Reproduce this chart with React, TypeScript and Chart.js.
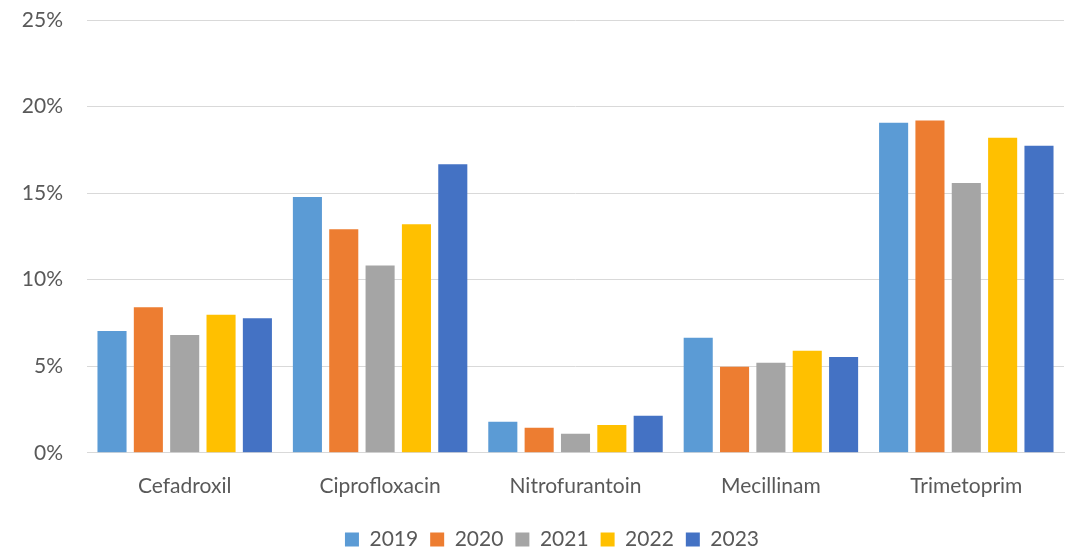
import React, { useEffect, useRef } from "react";
import { Chart, registerables } from "chart.js";

Chart.register(...registerables);

const categories = ["Cefadroxil", "Ciprofloxacin", "Nitrofurantoin", "Mecillinam", "Trimetoprim"];
const years = ["2019", "2020", "2021", "2022", "2023"];
const colors = ["#5B9BD5", "#ED7D31", "#A5A5A5", "#FFC000", "#4472C4"];

const v2019 = [7.04, 14.78, 1.79, 6.64, 19.07];
const v2020 = [8.41, 12.91, 1.44, 4.97, 19.2];
const v2021 = [6.81, 10.82, 1.1, 5.2, 15.59];
const v2022 = [7.97, 13.2, 1.6, 5.89, 18.2];
const v2023 = [7.77, 16.67, 2.14, 5.54, 17.74];

const seriesValues = [v2019, v2020, v2021, v2022, v2023];
const yTicks = [0, 5, 10, 15, 20, 25];

const FONT = "Lato, 'Open Sans', sans-serif";
const TEXT = "#595959";
const FS = 21;

const legendShift = {
  id: "legendShift",
  afterLayout(chart: any) {
    const l = chart.legend;
    if (!l) return;
    l.left += 20;
    l.right += 20;
    l.top -= 3;
    l.bottom -= 3;
    if (l.adjustHitBoxes) l.adjustHitBoxes();
  },
};

export default function App() {
  const ref = useRef<HTMLCanvasElement | null>(null);

  useEffect(() => {
    document.body.style.margin = "0";
    const canvas = ref.current;
    if (!canvas) return;
    const chart = new Chart(canvas, {
      type: "bar",
      data: {
        labels: categories,
        datasets: years.map((y, i) => ({
          label: y,
          data: seriesValues[i],
          backgroundColor: colors[i],
          borderWidth: 0,
          categoryPercentage: 0.93,
          barPercentage: 0.8,
        })),
      },
      plugins: [legendShift],
      options: {
        animation: false,
        responsive: false,
        maintainAspectRatio: false,
        layout: { padding: { top: 0, right: 15, left: 0, bottom: -13 } },
        plugins: {
          tooltip: { enabled: false },
          legend: {
            position: "bottom",
            labels: {
              boxWidth: 14,
              boxHeight: 14,
              padding: 12,
              color: TEXT,
              font: { family: FONT, size: FS },
            },
          },
        },
        scales: {
          x: {
            grid: { display: false, drawTicks: false },
            border: { display: true, color: "#D9D9D9", width: 1 },
            ticks: {
              color: TEXT,
              font: { family: FONT, size: FS },
              padding: 21,
            },
          },
          y: {
            min: 0,
            max: 25,
            afterBuildTicks: (axis: any) => {
              axis.ticks = yTicks.map((v) => ({ value: v }));
            },
            afterFit: (axis: any) => {
              axis.width = 87;
              axis.paddingTop = 20;
              axis.paddingBottom = 0;
            },
            grid: { color: "#D9D9D9", lineWidth: 1, drawTicks: false },
            border: { display: false },
            ticks: {
              color: TEXT,
              font: { family: FONT, size: FS },
              padding: 24,
              callback: (v: any) => v + "%",
            },
          },
        },
      },
    });
    return () => chart.destroy();
  }, []);

  return (
    <div style={{ width: 1079, height: 550 }}>
      <canvas ref={ref} width={1079} height={550} style={{ display: "block" }} />
    </div>
  );
}
